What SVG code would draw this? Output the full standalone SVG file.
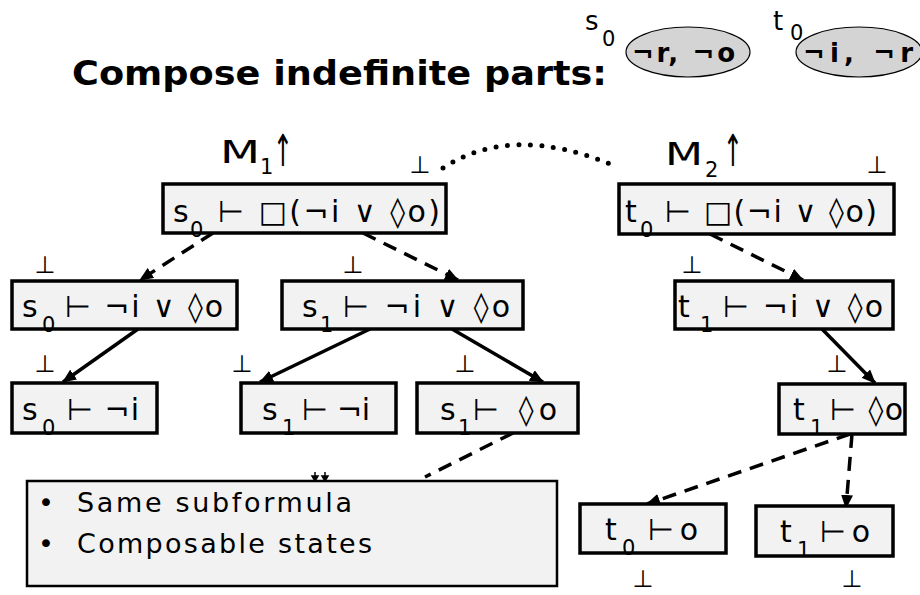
<svg xmlns="http://www.w3.org/2000/svg" width="920" height="595" viewBox="0 0 920 595">
<defs>
<style>
.box{fill:#f2f2f2;stroke:#000;stroke-width:3.5}
.ell{fill:#d4d4d4;stroke:#000;stroke-width:1.2}
text{font-family:"DejaVu Sans","Liberation Sans",sans-serif;fill:#000}
.t{font-size:30px}
.s{font-size:21px}
.bot{font-size:24px;text-anchor:middle}
.title{font-size:34px;font-weight:bold}
.note{font-size:27px}
.arr{font-size:44px}
.sol{fill:none;stroke:#000;stroke-width:3.5;marker-end:url(#ah)}
.dash{fill:none;stroke:#000;stroke-width:3.5;stroke-dasharray:14 9;marker-end:url(#ah)}
</style>
<marker id="ah" markerUnits="userSpaceOnUse" markerWidth="14" markerHeight="12" refX="13" refY="6" orient="auto" viewBox="0 0 14 12">
<path d="M0,0 L14,6 L0,12 z" fill="#000"/>
</marker>
</defs>
<rect width="920" height="595" fill="#fff"/>
<text class="title" x="72" y="85" textLength="535" lengthAdjust="spacingAndGlyphs">Compose indefinite parts:</text>
<g id="state-s0">
<text class="t" x="585" y="30" style="font-size:26px">s</text><text class="s" x="602" y="46">0</text>
<ellipse class="ell" cx="688" cy="52" rx="62" ry="25"/>
<text x="632" y="62" style="font-size:26px;font-weight:bold" textLength="103">¬r, ¬o</text>
</g>
<g id="state-t0">
<text class="t" x="773" y="30" style="font-size:26px">t</text><text class="s" x="790" y="40">0</text>
<ellipse class="ell" cx="859" cy="52" rx="63" ry="25"/>
<text x="803" y="62" style="font-size:26px;font-weight:bold" textLength="110">¬i, ¬r</text>
</g>
<g id="label-M1">
<text x="220" y="163" style="font-size:32px" textLength="40" lengthAdjust="spacingAndGlyphs">M</text><text class="s" x="260" y="174">1</text><text class="arr" x="273" y="166" textLength="20" lengthAdjust="spacingAndGlyphs">↑</text>
</g>
<g id="label-M2">
<text x="665" y="165" style="font-size:32px" textLength="38" lengthAdjust="spacingAndGlyphs">M</text><text class="s" x="705" y="177">2</text><text class="arr" x="723" y="166" textLength="20" lengthAdjust="spacingAndGlyphs">↑</text>
</g>
<g id="connectors">
<path d="M443,168 Q513,122 617,167" fill="none" stroke="#000" stroke-width="5" stroke-linecap="round" stroke-dasharray="0 11.5"/>
<path class="dash" d="M213,233 L140,280"/>
<path class="dash" d="M363,233 L458,280"/>
<path class="dash" d="M710,234 L803,280"/>
<path class="sol" d="M138,329 L63,382"/>
<path class="sol" d="M370,329 L260,382"/>
<path class="sol" d="M452,329 L543,382"/>
<path class="sol" d="M822,329 L875,383"/>
<path d="M513,433 L425,477" fill="none" stroke="#000" stroke-width="3.5" stroke-dasharray="14 9"/>
<path class="dash" d="M850,434 L647,504"/>
<path class="dash" d="M852,434 L846,508"/>
</g>
<g id="n-root-s0">
<rect class="box" x="163" y="184" width="283" height="49"/>
<text class="t" x="173" y="222">s</text><text class="s" x="190" y="237">0</text>
<text class="t" x="218" y="222" textLength="222">⊢ □(¬i ∨ ◊o)</text>
<text class="bot" x="420" y="173">⊥</text>
</g>
<g id="n-root-t0">
<rect class="box" x="619" y="184" width="275" height="50"/>
<text class="t" x="625" y="222">t</text><text class="s" x="640" y="237">0</text>
<text class="t" x="665" y="222" textLength="212">⊢ □(¬i ∨ ◊o)</text>
<text class="bot" x="877" y="173">⊥</text>
</g>
<g id="n-s0-or">
<rect class="box" x="12" y="281" width="225" height="48"/>
<text class="t" x="22" y="317">s</text><text class="s" x="42" y="332">0</text>
<text class="t" x="65" y="317" textLength="158">⊢ ¬i ∨ ◊o</text>
<text class="bot" x="45" y="273">⊥</text>
</g>
<g id="n-s1-or">
<rect class="box" x="282" y="281" width="241" height="48"/>
<text class="t" x="302" y="317">s</text><text class="s" x="320" y="332">1</text>
<text class="t" x="343" y="317" textLength="167">⊢ ¬i ∨ ◊o</text>
<text class="bot" x="353" y="273">⊥</text>
</g>
<g id="n-t1-or">
<rect class="box" x="675" y="281" width="218" height="48"/>
<text class="t" x="678" y="317">t</text><text class="s" x="700" y="332">1</text>
<text class="t" x="723" y="317" textLength="160">⊢ ¬i ∨ ◊o</text>
<text class="bot" x="692" y="273">⊥</text>
</g>
<g id="n-s0-i">
<rect class="box" x="12" y="383" width="145" height="50"/>
<text class="t" x="22" y="420">s</text><text class="s" x="42" y="435">0</text>
<text class="t" x="67" y="420" textLength="72">⊢ ¬i</text>
<text class="bot" x="45" y="372">⊥</text>
</g>
<g id="n-s1-i">
<rect class="box" x="241" y="383" width="155" height="50"/>
<text class="t" x="262" y="420">s</text><text class="s" x="282" y="435">1</text>
<text class="t" x="302" y="420" textLength="68">⊢ ¬i</text>
<text class="bot" x="242" y="372">⊥</text>
</g>
<g id="n-s1-o">
<rect class="box" x="417" y="383" width="161" height="50"/>
<text class="t" x="440" y="420">s</text><text class="s" x="458" y="435">1</text>
<text class="t" x="473" y="420" textLength="84">⊢ ◊o</text>
<text class="bot" x="465" y="372">⊥</text>
</g>
<g id="n-t1-o">
<rect class="box" x="779" y="384" width="126" height="50"/>
<text class="t" x="793" y="420">t</text><text class="s" x="810" y="435">1</text>
<text class="t" x="830" y="420" textLength="73">⊢ ◊o</text>
<text class="bot" x="837" y="372">⊥</text>
</g>
<g id="n-t0-o2">
<rect class="box" x="580" y="504" width="146" height="49"/>
<text class="t" x="605" y="540">t</text><text class="s" x="622" y="555">0</text>
<text class="t" x="648" y="540" textLength="50">⊢ o</text>
<text class="bot" x="643" y="587">⊥</text>
</g>
<g id="n-t1-o2">
<rect class="box" x="756" y="506" width="137" height="50"/>
<text class="t" x="780" y="542">t</text><text class="s" x="797" y="557">1</text>
<text class="t" x="820" y="542" textLength="50">⊢ o</text>
<text class="bot" x="852" y="587">⊥</text>
</g>
<g id="marks">
<path d="M315,472 L315,478 M312,476 L318,476 L315,481 z M325,472 L325,478 M322,476 L328,476 L325,481 z" fill="#000" stroke="#000" stroke-width="1.5"/>
</g>
<g id="note">
<rect class="box" x="27" y="481" width="530" height="105" style="stroke-width:2.5"/>
<text class="note" x="38" y="512">•</text>
<text class="note" x="77" y="512" textLength="275">Same subformula</text>
<text class="note" x="38" y="553">•</text>
<text class="note" x="77" y="553" textLength="295">Composable states</text>
</g>
</svg>
